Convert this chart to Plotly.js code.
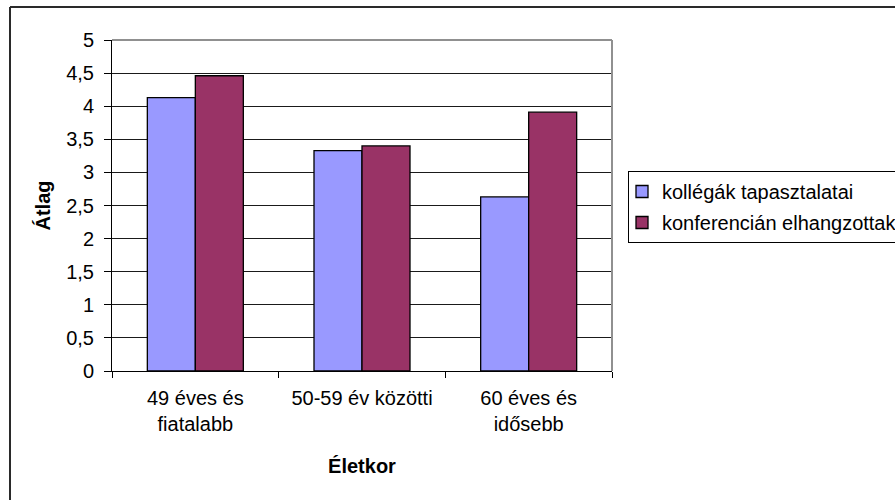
<!DOCTYPE html>
<html>
<head>
<meta charset="utf-8">
<script src="https://cdn.plot.ly/plotly-3.0.1.min.js"></script>
<style>
  html, body { margin: 0; padding: 0; background: #ffffff; }
  #chart { width: 895px; height: 500px; }
</style>
</head>
<body>
<div id="chart"></div>
<script>
// Age groups (x categories)
const categories = ['49 éves és<br>fiatalabb', '50-59 év közötti', '60 éves és<br>idősebb'];

// Series names
const seriesNames = ['kollégák tapasztalatai', 'konferencián elhangzottak'];

// Average scores per age group
const kollegak = [4.13, 3.33, 2.63];
const konferencia = [4.46, 3.40, 3.91];

// Y axis ticks
const yTickVals = [0, 0.5, 1, 1.5, 2, 2.5, 3, 3.5, 4, 4.5, 5];
const yTickText = ['0', '0,5', '1', '1,5', '2', '2,5', '3', '3,5', '4', '4,5', '5'];

const FONT = 'Liberation Sans, Arial, sans-serif';
const FS = 20;

// Plot area in pixels
const W = 895, H = 500;
const L = 112, R = 612, T = 40, B = 371;
const px = x => (x - L) / (R - L);
const py = y => (B - y) / (B - T);

const traces = [
  {
    type: 'bar', name: seriesNames[0], x: categories, y: kollegak,
    legendgroup: 'a',
    marker: { color: '#9999FF', line: { color: '#000000', width: 1.3 } },
    hoverinfo: 'skip'
  },
  {
    type: 'bar', name: seriesNames[1], x: categories, y: konferencia,
    legendgroup: 'b',
    marker: { color: '#993366', line: { color: '#000000', width: 1.3 } },
    hoverinfo: 'skip'
  }
];

const layout = {
  width: W, height: H,
  margin: { l: L, r: W - R, t: T, b: H - B, pad: 0, autoexpand: false },
  paper_bgcolor: '#ffffff',
  plot_bgcolor: '#ffffff',
  font: { family: FONT, size: FS, color: '#000000' },
  barmode: 'group',
  bargap: 0.424,
  bargroupgap: 0,
  showlegend: true,
  legend: {
    x: px(628), y: py(171), xanchor: 'left', yanchor: 'top',
    bordercolor: '#000000', borderwidth: 1,
    bgcolor: '#ffffff',
    indentation: -7,
    font: { family: FONT, size: FS, color: '#000000' },
    traceorder: 'grouped', tracegroupgap: 2
  },
  xaxis: {
    type: 'category',
    automargin: false,
    showline: true, linecolor: '#000000', linewidth: 1,
    ticks: 'outside', ticklen: 6, tickcolor: '#000000', tickwidth: 1,
    tickson: 'boundaries',
    showgrid: false,
    tickfont: { family: FONT, size: FS, color: '#000000' },
    ticklabelstandoff: 9,
    title: { text: '<b>Életkor</b>', font: { family: FONT, size: FS }, standoff: 24 },
    fixedrange: true
  },
  yaxis: {
    range: [0, 5],
    automargin: false,
    tickvals: yTickVals, ticktext: yTickText,
    showline: true, linecolor: '#000000', linewidth: 1,
    ticks: 'outside', ticklen: 7, tickcolor: '#000000', tickwidth: 1,
    showgrid: true, gridcolor: '#1a1a1a', gridwidth: 1,
    zeroline: false,
    tickfont: { family: FONT, size: FS, color: '#000000' },
    ticklabelstandoff: 6,
    title: { text: '<b>Átlag</b>', font: { family: FONT, size: FS }, standoff: 10 },
    fixedrange: true
  },
  shapes: [
    // plot area frame, top and right edges
    { type: 'line', xref: 'paper', yref: 'paper', x0: 0, x1: 1, y0: 1, y1: 1,
      line: { color: '#909090', width: 2 }, layer: 'above' },
    { type: 'line', xref: 'paper', yref: 'paper', x0: 1, x1: 1, y0: 0, y1: 1,
      line: { color: '#909090', width: 2 }, layer: 'above' },
    // chart frame
    { type: 'line', xref: 'paper', yref: 'paper', x0: px(10), x1: px(895), y0: py(7), y1: py(7),
      line: { color: '#2a2a2a', width: 2 } },
    { type: 'line', xref: 'paper', yref: 'paper', x0: px(10), x1: px(10), y0: py(7), y1: py(501),
      line: { color: '#2a2a2a', width: 2 } }
  ]
};

Plotly.newPlot('chart', traces, layout, { displayModeBar: false, staticPlot: true });
</script>
</body>
</html>
